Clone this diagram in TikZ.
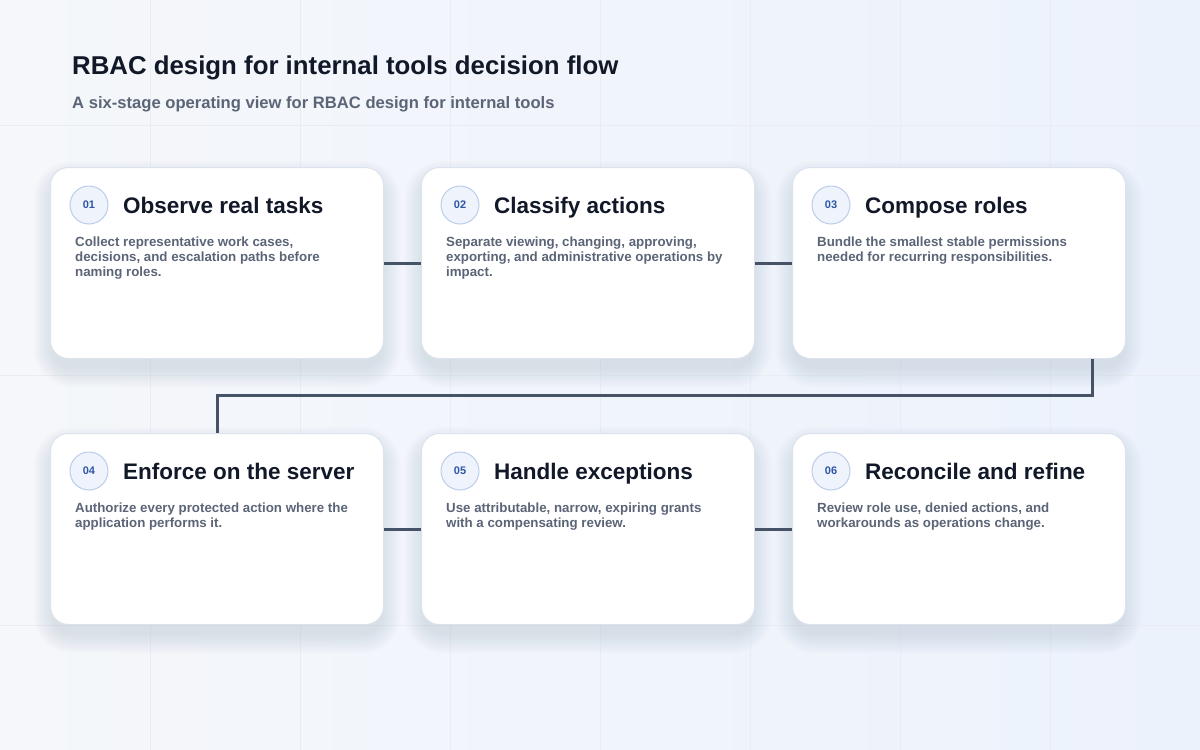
\documentclass[tikz,border=0pt]{standalone}
\usepackage{fontspec}
\setmainfont{Liberation Sans}
\usepackage{tikz}
\usetikzlibrary{positioning}

\definecolor{bgtop}{HTML}{F5F7FA}
\definecolor{bgbot}{HTML}{ECF2FC}
\definecolor{gridc}{HTML}{E9EDF3}
\definecolor{cardline}{HTML}{DCE3EC}
\definecolor{shadowc}{HTML}{607090}
\definecolor{ink}{HTML}{111827}
\definecolor{muted}{HTML}{5B6577}
\definecolor{badgefill}{HTML}{EEF3FC}
\definecolor{badgeline}{HTML}{BCCDEB}
\definecolor{badgeink}{HTML}{2F56A6}
\definecolor{wire}{HTML}{465366}

\pgfdeclarelayer{back}
\pgfdeclarelayer{shade}
\pgfsetlayers{back,shade,main}

\begin{document}
\begin{tikzpicture}[x=1pt,y=-1pt,node distance=37pt,
	stage/.style={draw=cardline,line width=1pt,fill=white,rounded corners=18pt,
		minimum width=333pt,minimum height=191pt,inner sep=0pt},
	badge/.style={circle,draw=badgeline,line width=1pt,fill=badgefill,minimum size=38pt,inner sep=0pt,
		text=badgeink,font=\fontsize{11}{13}\selectfont\bfseries},
	stagetitle/.style={anchor=base west,inner sep=0pt,text=ink,font=\fontsize{22.5}{26}\selectfont\bfseries},
	stagetext/.style={anchor=north west,inner sep=0pt,align=left,text=muted,font=\fontsize{13.3}{15}\selectfont\bfseries},
	link/.style={draw=wire,line width=3pt}]
	\useasboundingbox (0,0) rectangle (1200,750);
	\begin{pgfonlayer}{back}
	\shade[left color=bgtop,right color=bgbot] (0,0) rectangle (1200,750);
	\foreach \x in {150,300,...,1050} \draw[gridc,line width=0.8pt] (\x,0) -- (\x,750);
	\foreach \y in {125,375,625} \draw[gridc,line width=0.8pt] (0,\y) -- (1200,\y);
	\end{pgfonlayer}

	% heading
	\node[anchor=west,inner sep=0pt,text=ink,font=\fontsize{25.8}{30}\selectfont\bfseries] (title) at (72,68) {RBAC design for internal tools decision flow};
	\node[anchor=west,inner sep=0pt,text=muted,font=\fontsize{16.6}{19}\selectfont\bfseries] (subtitle) at (72,104) {A six-stage operating view for RBAC design for internal tools};

	% stages
	\node[stage,anchor=north west] (s1) at (50,167) {};
	\node[stage,right=of s1] (s2) {};
	\node[stage,right=of s2] (s3) {};
	\node[stage,below=74pt of s1] (s4) {};
	\node[stage,right=of s4] (s5) {};
	\node[stage,right=of s5] (s6) {};

	% soft shadows under the cards
	\begin{pgfonlayer}{shade}
	\foreach \s in {s1,s2,s3,s4,s5,s6}
		\foreach \k in {2,4,...,20}
			\fill[shadowc,opacity=0.015,rounded corners=18pt+\k pt]
				([shift={(-\k+4,-\k+14)}]\s.north west) rectangle ([shift={(\k-4,\k+8)}]\s.south east);
	\end{pgfonlayer}

	% connectors
	\coordinate (turn1) at ([xshift=-34pt]s3.south east |- 0,395);
	\coordinate (turn2) at (s4.north |- turn1);
	\path[link] (s1.east) -- (s2.west);
	\path[link] (s2.east) -- (s3.west);
	\path[link] ([xshift=-34pt]s3.south east) -- (turn1) -- (turn2) -- (s4.north);
	\path[link] (s4.east) -- (s5.west);
	\path[link] (s5.east) -- (s6.west);

	\node[badge] (b1) at ([shift={(39,38)}]s1.north west) {01};
	\node[stagetitle] (t1) at ([shift={(73,46)}]s1.north west) {Observe real tasks};
	\node[stagetext] (d1) at ([shift={(25,70)}]s1.north west) {Collect representative work cases,\\decisions, and escalation paths before\\naming roles.};

	\node[badge] (b2) at ([shift={(39,38)}]s2.north west) {02};
	\node[stagetitle] (t2) at ([shift={(73,46)}]s2.north west) {Classify actions};
	\node[stagetext] (d2) at ([shift={(25,70)}]s2.north west) {Separate viewing, changing, approving,\\exporting, and administrative operations by\\impact.};

	\node[badge] (b3) at ([shift={(39,38)}]s3.north west) {03};
	\node[stagetitle] (t3) at ([shift={(73,46)}]s3.north west) {Compose roles};
	\node[stagetext] (d3) at ([shift={(25,70)}]s3.north west) {Bundle the smallest stable permissions\\needed for recurring responsibilities.};

	\node[badge] (b4) at ([shift={(39,38)}]s4.north west) {04};
	\node[stagetitle] (t4) at ([shift={(73,46)}]s4.north west) {Enforce on the server};
	\node[stagetext] (d4) at ([shift={(25,70)}]s4.north west) {Authorize every protected action where the\\application performs it.};

	\node[badge] (b5) at ([shift={(39,38)}]s5.north west) {05};
	\node[stagetitle] (t5) at ([shift={(73,46)}]s5.north west) {Handle exceptions};
	\node[stagetext] (d5) at ([shift={(25,70)}]s5.north west) {Use attributable, narrow, expiring grants\\with a compensating review.};

	\node[badge] (b6) at ([shift={(39,38)}]s6.north west) {06};
	\node[stagetitle] (t6) at ([shift={(73,46)}]s6.north west) {Reconcile and refine};
	\node[stagetext] (d6) at ([shift={(25,70)}]s6.north west) {Review role use, denied actions, and\\workarounds as operations change.};
\end{tikzpicture}
\end{document}
